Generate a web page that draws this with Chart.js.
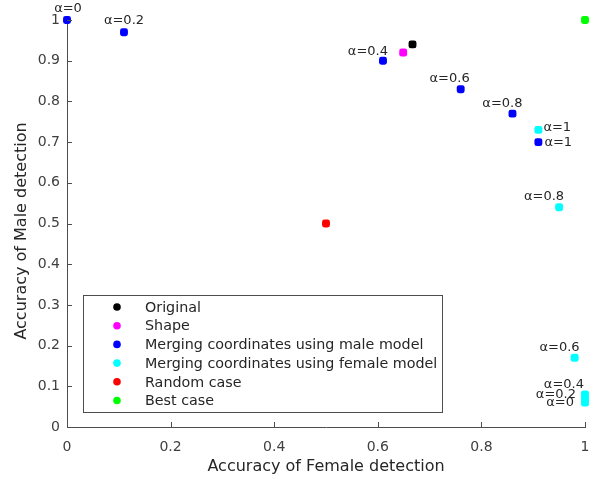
<!DOCTYPE html>
<html>
<head>
<meta charset="utf-8">
<script src="https://cdn.jsdelivr.net/npm/chart.js@4"></script>
<style>
html,body{margin:0;padding:0;background:#fff;}
#wrap{width:593px;height:479px;}
</style>
</head>
<body>
<div id="wrap"><canvas id="c" width="593" height="479"></canvas></div>
<script>
// ---- data ----
const seriesNames = ['Original', 'Shape', 'Merging coordinates using male model', 'Merging coordinates using female model', 'Random case', 'Best case'];
const originalX = [0.667];
const originalY = [0.94];
const shapeX = [0.649];
const shapeY = [0.92];
const maleX = [0, 0.11, 0.61, 0.76, 0.86, 0.91];
const maleY = [1, 0.97, 0.90, 0.83, 0.77, 0.70];
const femaleX = [1, 1, 1, 0.98, 0.95, 0.91];
const femaleY = [0.06, 0.07, 0.08, 0.17, 0.54, 0.73];
const randomX = [0.5];
const randomY = [0.5];
const bestX = [1];
const bestY = [1];
const alphaLabels = ['α=0', 'α=0.2', 'α=0.4', 'α=0.6', 'α=0.8', 'α=1'];
const tickValues = [0, 0.2, 0.4, 0.6, 0.8, 1];
const yTickValues = [0, 0.1, 0.2, 0.3, 0.4, 0.5, 0.6, 0.7, 0.8, 0.9, 1];
const xTitle = 'Accuracy of Female detection';
const yTitle = 'Accuracy of Male detection';

// ---- styles ----
const colors = ['#000000', '#ff00ff', '#0000ff', '#00ffff', '#ff0000', '#00ff00'];
// label placement per point: [align, baseline, dx, dy]
const malePlace = [
  ['center', 'bottom', 1, -5],
  ['center', 'bottom', 0, -5],
  ['right', 'bottom', 5, -3],
  ['right', 'bottom', 9, -4],
  ['right', 'bottom', 10, -3],
  ['left', 'middle', 6, 1]
];
const femalePlace = [
  ['right', 'bottom', -11, 7],
  ['right', 'bottom', -9, 3],
  ['right', 'bottom', -1, -3],
  ['right', 'bottom', 5, -4],
  ['right', 'bottom', 5, -4],
  ['left', 'middle', 5, -2]
];
const FONT = 'DejaVu Sans';
const TXT = '#262626';
const AXIS = '#4d4d4d';

function pts(xs, ys) { return xs.map((x, i) => ({x: x, y: ys[i]})); }
const allData = [pts(originalX, originalY), pts(shapeX, shapeY), pts(maleX, maleY), pts(femaleX, femaleY), pts(randomX, randomY), pts(bestX, bestY)];

const datasets = allData.map((d, i) => ({
  label: seriesNames[i],
  data: d,
  backgroundColor: colors[i],
  borderColor: colors[i],
  borderWidth: 0,
  pointStyle: 'rectRounded',
  pointRadius: 4.6,
  pointHoverRadius: 4.6,
  clip: false
}));

const decor = {
  id: 'decor',
  afterDraw(chart) {
    const ctx = chart.ctx;
    const xs = chart.scales.x, ys = chart.scales.y;
    const a = chart.chartArea;
    ctx.save();
    // inward ticks
    ctx.strokeStyle = AXIS;
    ctx.lineWidth = 1;
    ctx.beginPath();
    tickValues.forEach(v => {
      const px = Math.round(xs.getPixelForValue(v)) + 0.5;
      ctx.moveTo(px, a.bottom); ctx.lineTo(px, a.bottom - 5);
    });
    yTickValues.forEach(v => {
      const py = Math.round(ys.getPixelForValue(v)) + 0.5;
      ctx.moveTo(a.left, py); ctx.lineTo(a.left + 5, py);
    });
    ctx.stroke();
    // y title
    ctx.save();
    ctx.translate(22, 231);
    ctx.rotate(-Math.PI / 2);
    ctx.fillStyle = TXT;
    ctx.font = '16px "' + FONT + '"';
    ctx.textAlign = 'center';
    ctx.textBaseline = 'middle';
    ctx.fillText(yTitle, 0, 0);
    ctx.restore();
    // point labels
    ctx.fillStyle = TXT;
    ctx.font = '13px "' + FONT + '"';
    const drawLabels = (xsArr, ysArr, place) => {
      xsArr.forEach((x, i) => {
        const p = place[i];
        ctx.textAlign = p[0];
        ctx.textBaseline = p[1];
        ctx.fillText(alphaLabels[i], xs.getPixelForValue(x) + p[2], ys.getPixelForValue(ysArr[i]) + p[3]);
      });
    };
    drawLabels(maleX, maleY, malePlace);
    drawLabels(femaleX, femaleY, femalePlace);
    // legend box
    const lx = 83.5, ly = 295.5, lw = 359, lh = 117;
    ctx.fillStyle = '#ffffff';
    ctx.fillRect(lx, ly, lw, lh);
    ctx.strokeStyle = AXIS;
    ctx.strokeRect(lx, ly, lw, lh);
    ctx.font = '14.3px "' + FONT + '"';
    ctx.textAlign = 'left';
    ctx.textBaseline = 'middle';
    chart.data.datasets.forEach((ds, i) => {
      const cy = 307 + i * 18.7;
      ctx.fillStyle = ds.backgroundColor;
      ctx.beginPath();
      ctx.arc(117, cy, 3.8, 0, Math.PI * 2);
      ctx.fill();
      ctx.fillStyle = TXT;
      ctx.fillText(ds.label, 145, cy + 1);
    });
    ctx.restore();
  }
};

new Chart(document.getElementById('c'), {
  type: 'scatter',
  data: {datasets: datasets},
  options: {
    responsive: false,
    animation: false,
    events: [],
    layout: {padding: {left: 0, top: 20, right: 8, bottom: 0}},
    plugins: {legend: {display: false}, tooltip: {enabled: false}},
    scales: {
      x: {
        type: 'linear', min: 0, max: 1,
        afterBuildTicks: s => { s.ticks = tickValues.map(v => ({value: v})); },
        afterFit: s => { s.height = 52; s.paddingLeft = 0; s.paddingRight = 0; },
        grid: {display: false, drawTicks: false},
        border: {display: true, color: AXIS, width: 1},
        ticks: {color: '#404040', font: {family: FONT, size: 14}, padding: 12, maxRotation: 0,
          callback: v => String(v)},
        title: {display: true, text: xTitle, color: TXT,
          font: {family: FONT, size: 16}, padding: {top: 0, bottom: 3}}
      },
      y: {
        type: 'linear', min: 0, max: 1,
        afterBuildTicks: s => { s.ticks = yTickValues.map(v => ({value: v})); },
        afterFit: s => { s.width = 67; s.paddingTop = 0; s.paddingBottom = 0; },
        grid: {display: false, drawTicks: false},
        border: {display: true, color: AXIS, width: 1},
        ticks: {color: '#404040', font: {family: FONT, size: 14}, padding: 7,
          callback: v => String(v)},
        title: {display: false}
      }
    }
  },
  plugins: [decor]
});
</script>
</body>
</html>
